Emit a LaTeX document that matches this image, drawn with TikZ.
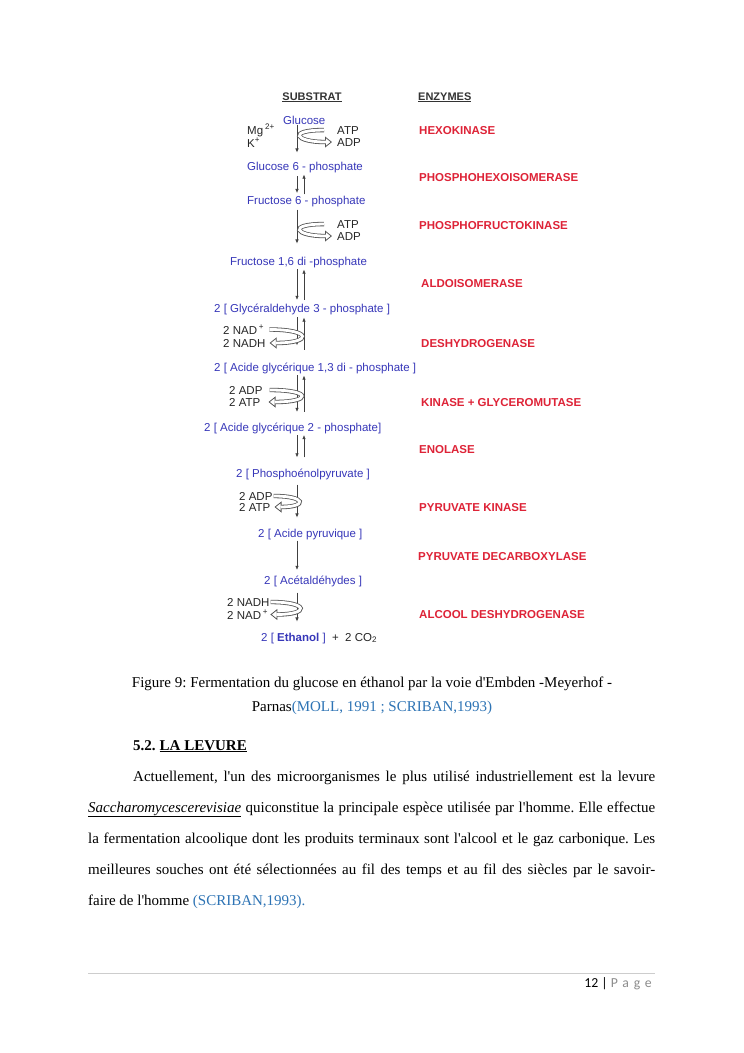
\documentclass[tikz,border=0pt]{standalone}
\usepackage{fontspec}
\newfontfamily\timesfont{Liberation Serif}
\newfontfamily\arial{Liberation Sans}
\newfontfamily\calibri{Carlito}
\newfontfamily\spacedcal[LetterSpace=35]{Carlito}
\usepackage{xcolor}
\usepackage{tikz}
\usetikzlibrary{arrows.meta,positioning}

\definecolor{subblue}{RGB}{55,55,185}
\definecolor{enzred}{RGB}{222,35,55}
\definecolor{citeblue}{RGB}{46,116,181}
\definecolor{arrgray}{RGB}{85,85,85}
\definecolor{rulegray}{RGB}{205,205,205}
\definecolor{pagegray}{RGB}{140,140,140}

\begin{document}
\begin{tikzpicture}[
    x=1pt, y=-1pt,
    sub/.style={font=\arial\fontsize{11.5}{13}\selectfont, text=subblue, anchor=base west, inner sep=1pt},
    enz/.style={font=\arial\bfseries\fontsize{11.5}{13}\selectfont, text=enzred, anchor=base west, inner sep=1pt},
    cof/.style={font=\arial\fontsize{11.5}{13}\selectfont, text=black!85, anchor=base west, inner sep=1pt},
    head/.style={font=\arial\bfseries\fontsize{11}{13}\selectfont, text=black!80, anchor=base west, inner sep=1pt},
    rxn/.style={line width=0.6pt, draw=black!75, -{Latex[length=4pt, width=3.5pt]}},
    hollow/.style={line width=4.4pt, draw=arrgray, -{Triangle[open, length=7pt, width=11pt, line width=0.8pt]},
        postaction={draw=white, line width=2.8pt, -, shorten >=6pt}},
    body/.style={font=\timesfont\frenchspacing\fontsize{15}{31}\selectfont, inner sep=0pt}
]
\fill[white] (0,0) rectangle (744,1053);
\useasboundingbox (0,0) rectangle (744,1053);

% column heads
\node[head, anchor=base] (substrat) at (312,100) {\underline{SUBSTRAT}};
\node[head] (enzymes) at (417,100) {\underline{ENZYMES}};

% substrates
\node[sub] (glc) at (282,124) {Glucose};
\node[sub] (gsixp) at (246,170) {Glucose 6 - phosphate};
\node[sub] (fsixp) at (246,204) {Fructose 6 - phosphate};
\node[sub] (fbp) at (229,265) {Fructose 1,6 di -phosphate};
\node[sub] (gap) at (213,312) {2 [ Glycéraldehyde 3 - phosphate ]};
\node[sub] (bpg) at (213,371) {2 [ Acide glycérique 1,3 di - phosphate ]};
\node[sub] (pg) at (203,431) {2 [ Acide glycérique 2 - phosphate]};
\node[sub] (pep) at (235,477) {2 [ Phosphoénolpyruvate ]};
\node[sub] (pyr) at (257,537) {2 [ Acide pyruvique ]};
\node[sub] (acet) at (263,584) {2 [ Acétaldéhydes ]};
\node[sub] (etoh) at (260,641) {2 [ \textbf{Ethanol} ]\ \ {\color{black!85}+\ \ 2 CO\textsubscript{2}}};

% cofactors
\node[cof] (mg) at (246,134) {Mg\,\textsuperscript{2+}};
\node[cof] (kion) at (246,147) {K\textsuperscript{+}};
\node[cof] (atpa) at (336,134) {ATP};
\node[cof] (adpa) at (336,146) {ADP};
\node[cof] (atpb) at (336,228) {ATP};
\node[cof] (adpb) at (336,240) {ADP};
\node[cof] (nada) at (222,334) {2 NAD\,\textsuperscript{+}};
\node[cof] (nadha) at (222,347) {2 NADH};
\node[cof] (adpc) at (228,394) {2 ADP};
\node[cof] (atpc) at (228,406) {2 ATP};
\node[cof] (adpd) at (238,500) {2 ADP};
\node[cof] (atpd) at (238,511) {2 ATP};
\node[cof] (nadhb) at (226,606) {2 NADH};
\node[cof] (nadb) at (226,619) {2 NAD\,\textsuperscript{+}};

% enzymes
\node[enz] (hk) at (418,134) {HEXOKINASE};
\node[enz] (pgi) at (418,181) {PHOSPHOHEXOISOMERASE};
\node[enz] (pfk) at (418,229) {PHOSPHOFRUCTOKINASE};
\node[enz] (ald) at (420,287) {ALDOISOMERASE};
\node[enz] (gapdh) at (420,347) {DESHYDROGENASE};
\node[enz] (pgk) at (420,406) {KINASE + GLYCEROMUTASE};
\node[enz] (eno) at (418,453) {ENOLASE};
\node[enz] (pyk) at (418,511) {PYRUVATE KINASE};
\node[enz] (pdc) at (417,560) {PYRUVATE DECARBOXYLASE};
\node[enz] (adh) at (418,618) {ALCOOL DESHYDROGENASE};

% reaction arrows
\coordinate (dn) at (297,0);
\coordinate (up) at (304,0);
\foreach \a/\b/\s/\e in {glc/gsixp/0/8, gsixp/fsixp/2.5/1.5, fsixp/fbp/2/12, fbp/gap/0.5/2.5,
    gap/bpg/1.5/16, bpg/pg/0.5/9.5, pg/pep/0.5/10, pep/pyr/4/10, pyr/acet/0/4.5, acet/etoh/5/10}
  \draw[rxn, shorten <=\s pt, shorten >=\e pt] (\a.south -| dn) -- (\b.north -| dn);
\foreach \a/\b/\s/\e in {fsixp/gsixp/0/1, gap/fbp/2.5/1, bpg/gap/11.5/2, pg/bpg/9.5/1, pep/pg/10/0.5}
  \draw[rxn, shorten <=\s pt, shorten >=\e pt] (\a.north -| up) -- (\b.south -| up);

% cofactor loops
\draw[hollow] ([xshift=-12pt]atpa.west) .. controls +(-37,0) and +(-37,0) .. ([xshift=-4pt]adpa.west);
\draw[hollow] ([xshift=-12pt]atpb.west) .. controls +(-37,0) and +(-37,0) .. ([xshift=-4pt]adpb.west);
\draw[hollow] ([xshift=4pt]nada.east) .. controls +(43,0) and +(43,0) .. ([xshift=3pt]nadha.east);
\draw[hollow] ([xshift=6pt]adpc.east) .. controls +(43,0) and +(43,0) .. ([xshift=7pt]atpc.east);
\draw[hollow] ([xshift=0pt]adpd.east) .. controls +(33,0) and +(33,0) .. ([xshift=3pt]atpd.east);
\draw[hollow] ([xshift=0pt]nadhb.east) .. controls +(39,0) and +(39,0) .. ([xshift=1pt]nadb.east);

% caption and text
\node[body, align=center, anchor=base, font=\timesfont\frenchspacing\fontsize{15}{23.5}\selectfont] (caption) at (372,711)
  {Figure 9: Fermentation du glucose en éthanol par la voie d'Embden -Meyerhof -\\
   Parnas\textcolor{citeblue}{(MOLL, 1991 ; SCRIBAN,1993)}};
\node[body, anchor=base west, font=\timesfont\bfseries\fontsize{15}{18}\selectfont] (section) at (133,750)
  {5.2.\hspace{4pt}\underline{LA LEVURE}};
\node[body, anchor=base west, text width=567pt, align=justify] (para) at (88,781)
  {\hspace*{45pt}Actuellement, l'un des microorganismes le plus utilisé industriellement est la levure\linebreak
   \underline{\textit{Saccharomycescerevisiae}} quiconstitue la principale espèce utilisée par l'homme. Elle effectue\linebreak
   la fermentation alcoolique dont les produits terminaux sont l'alcool et le gaz carbonique. Les\linebreak
   meilleures souches ont été sélectionnées au fil des temps et au fil des siècles par le savoir-\linebreak
   faire de l'homme \textcolor{citeblue}{(SCRIBAN,1993).}};

% footer
\coordinate (rulel) at (88,973);
\coordinate (ruler) at (655,973);
\draw[rulegray, line width=0.8pt] (rulel) -- (ruler);
\node[inner sep=0pt, anchor=base east, font=\calibri\fontsize{13.75}{16}\selectfont] (pageno) at (652,987)
  {12 | {\spacedcal\color{pagegray}Page}};
\end{tikzpicture}
\end{document}
